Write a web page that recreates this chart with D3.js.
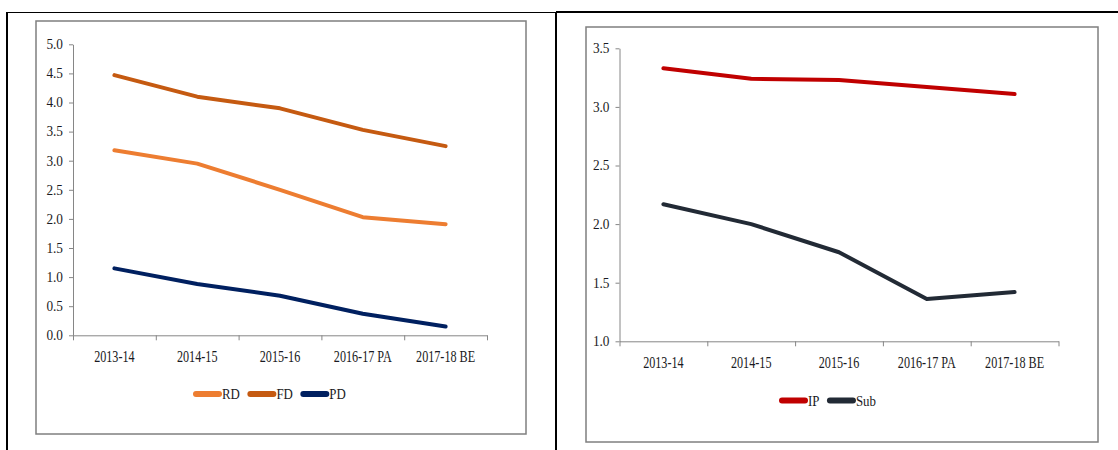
<!DOCTYPE html>
<html>
<head>
<meta charset="utf-8">
<script src="https://cdn.jsdelivr.net/npm/d3@7"></script>
<style>
  html, body { margin: 0; padding: 0; background: #fff; }
  svg { display: block; }
  text { font-family: "Liberation Serif", "Times New Roman", serif; fill: #1a1a22; }
</style>
</head>
<body>
<svg id="chart" width="1118" height="450"></svg>
<script>
// ---- data ----
const categories = ["2013-14", "2014-15", "2015-16", "2016-17 PA", "2017-18 BE"];
const rdValues  = [3.18, 2.95, 2.50, 2.03, 1.91];
const fdValues  = [4.47, 4.10, 3.90, 3.53, 3.25];
const pdValues  = [1.15, 0.88, 0.68, 0.37, 0.15];
const ipValues  = [3.33, 3.24, 3.23, 3.17, 3.11];
const subValues = [2.17, 2.00, 1.76, 1.36, 1.42];
const leftTicks  = [0.0, 0.5, 1.0, 1.5, 2.0, 2.5, 3.0, 3.5, 4.0, 4.5, 5.0];
const rightTicks = [1.0, 1.5, 2.0, 2.5, 3.0, 3.5];
const leftSeries  = [
  { name: "RD", values: rdValues, color: "#ED7D31" },
  { name: "FD", values: fdValues, color: "#C55A11" },
  { name: "PD", values: pdValues, color: "#002060" }
];
const rightSeries = [
  { name: "IP",  values: ipValues,  color: "#C00000" },
  { name: "Sub", values: subValues, color: "#222A35" }
];

const svg = d3.select("#chart");
svg.append("rect").attr("width", 1118).attr("height", 450).attr("fill", "#fff");

// table borders
svg.append("line").attr("x1", 6).attr("x2", 557).attr("y1", 12.5).attr("y2", 12.5)
  .attr("stroke", "#000").attr("stroke-width", 1);
svg.append("line").attr("x1", 556).attr("x2", 1118).attr("y1", 12).attr("y2", 12)
  .attr("stroke", "#000").attr("stroke-width", 2);
svg.append("line").attr("x1", 7).attr("x2", 7).attr("y1", 12).attr("y2", 450)
  .attr("stroke", "#000").attr("stroke-width", 2);
svg.append("line").attr("x1", 556).attr("x2", 556).attr("y1", 12).attr("y2", 450)
  .attr("stroke", "#000").attr("stroke-width", 2);

function scaledText(g, x, y, str, size, sx, anchor) {
  const t = g.append("text")
    .attr("transform", `translate(${x},${y}) scale(${sx},1)`)
    .attr("font-size", size)
    .attr("text-anchor", anchor || "start")
    .text(str);
  return t;
}

function panel(cfg) {
  const g = svg.append("g");
  // chart frame
  g.append("rect")
    .attr("x", cfg.box[0]).attr("y", cfg.box[1])
    .attr("width", cfg.box[2]).attr("height", cfg.box[3])
    .attr("fill", "#fff").attr("stroke", "#7f7f7f").attr("stroke-width", 1.5);

  const y = d3.scaleLinear().domain(cfg.domain).range([cfg.yBottom, cfg.yTop]);
  const xb = d3.scaleBand().domain(categories).range([cfg.x0, cfg.x1]);
  const xi = d3.scaleLinear().domain([0, categories.length]).range([cfg.x0, cfg.x1]);

  // y axis
  const ya = g.append("g").attr("transform", `translate(${cfg.x0},0)`)
    .call(d3.axisLeft(y).tickValues(cfg.ticks).tickSize(4).tickSizeOuter(0).tickFormat(""));
  ya.selectAll("path, line").attr("stroke", "#868686").attr("stroke-width", 1);
  cfg.ticks.forEach(v => {
    scaledText(g, cfg.x0 - 10, y(v) + 4.8, d3.format(".1f")(v), 14, 0.95, "end");
  });

  // x axis (ticks between categories)
  const xa = g.append("g").attr("transform", `translate(0,${cfg.yBottom})`)
    .call(d3.axisBottom(xi).tickValues(d3.range(categories.length + 1)).tickSize(5).tickSizeOuter(0).tickFormat(""));
  xa.selectAll("path, line").attr("stroke", "#868686").attr("stroke-width", 1);
  categories.forEach(c => {
    scaledText(g, xb(c) + xb.bandwidth() / 2, cfg.yBottom + 26.5, c, 16, 0.76, "middle");
  });

  // lines
  const line = d3.line()
    .x((d, i) => xb(categories[i]) + xb.bandwidth() / 2)
    .y(d => y(d));
  cfg.series.forEach(s => {
    g.append("path").datum(s.values)
      .attr("d", line)
      .attr("fill", "none")
      .attr("stroke", s.color)
      .attr("stroke-width", 4)
      .attr("stroke-linecap", "round")
      .attr("stroke-linejoin", "round");
  });

  // legend
  let lx = cfg.legendX;
  cfg.series.forEach(s => {
    g.append("line")
      .attr("x1", lx + 3).attr("x2", lx + 26)
      .attr("y1", cfg.legendY).attr("y2", cfg.legendY)
      .attr("stroke", s.color).attr("stroke-width", 6)
      .attr("stroke-linecap", "round");
    const t = scaledText(g, lx + 29, cfg.legendY + 5.3, s.name, 14, 0.92, "start");
    const w = t.node().getComputedTextLength() * 0.92;
    lx = lx + 29 + w + 7.5;
  });
}

panel({
  box: [36, 21, 490, 413],
  x0: 73, x1: 487, yTop: 44.3, yBottom: 335.3,
  domain: [0, 5], ticks: leftTicks,
  series: leftSeries,
  legendX: 193, legendY: 394
});

panel({
  box: [586, 27, 512, 415],
  x0: 619.5, x1: 1058.5, yTop: 48.3, yBottom: 341.3,
  domain: [1, 3.5], ticks: rightTicks,
  series: rightSeries,
  legendX: 779, legendY: 400.5
});
</script>
</body>
</html>
